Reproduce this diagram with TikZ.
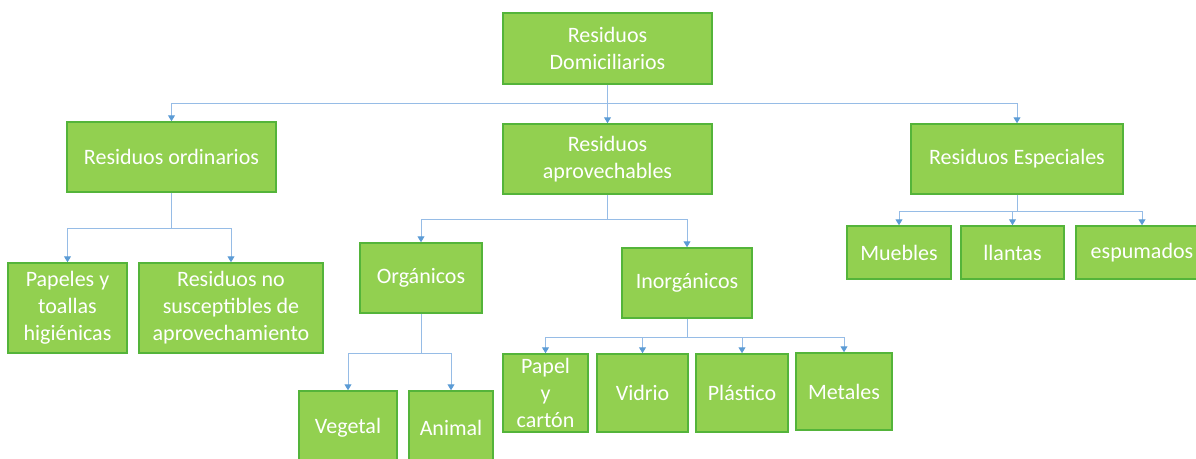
\documentclass[tikz,border=0pt]{standalone}
\usepackage{fontspec}
\setmainfont{Carlito}
\usetikzlibrary{arrows.meta}
\definecolor{boxgreen}{RGB}{146,208,80}
\definecolor{boxedge}{RGB}{84,180,58}
\definecolor{linkblue}{RGB}{150,188,230}
\definecolor{tipblue}{RGB}{91,155,213}
\begin{document}
\begin{tikzpicture}[x=1pt,y=-1pt,
    box/.style={rectangle,draw=boxedge,line width=1.5pt,fill=boxgreen,text=white,
      align=center,inner sep=0pt,font=\fontsize{22}{27}\selectfont},
    link/.style={draw=linkblue,line width=1pt,
      -{Triangle[length=6pt,width=7pt,fill=tipblue,color=tipblue]}}]
    \clip (0,0) rectangle (1196,458);
    % top levels
    \node[box,minimum width=209pt,minimum height=71pt] (root) at (607.5,48.5) {Residuos\\Domiciliarios};
    \node[box,minimum width=209pt,minimum height=70pt] (ord) at (171.5,157) {Residuos ordinarios};
    \node[box,minimum width=209pt,minimum height=70pt] (apr) at (607.5,159) {Residuos\\aprovechables};
    \node[box,minimum width=212pt,minimum height=70pt] (esp) at (1017,159) {Residuos Especiales};
    % ordinarios
    \node[box,minimum width=119pt,minimum height=90pt] (pap) at (67.5,308) {Papeles y\\toallas\\higiénicas};
    \node[box,minimum width=184pt,minimum height=90pt] (rno) at (231,308) {Residuos no\\susceptibles de\\aprovechamiento};
    % aprovechables
    \node[box,minimum width=122pt,minimum height=70pt] (org) at (421,278) {Orgánicos};
    \node[box,minimum width=130pt,minimum height=70pt] (ino) at (687,283) {Inorgánicos};
    \node[box,minimum width=98pt,minimum height=74pt] (veg) at (348,428) {Vegetal};
    \node[box,minimum width=84pt,minimum height=74pt] (ani) at (451,428) {Animal};
    \node[box,minimum width=85pt,minimum height=78pt] (ppc) at (545.5,393) {Papel\\y\\cartón};
    \node[box,minimum width=91pt,minimum height=78pt] (vid) at (642.5,393) {Vidrio};
    \node[box,minimum width=92pt,minimum height=78pt] (pla) at (742,393) {Plástico};
    \node[box,minimum width=96pt,minimum height=77pt] (met) at (844,391.5) {Metales};
    % especiales
    \node[box,minimum width=104pt,minimum height=53pt] (mue) at (899,252.5) {Muebles};
    \node[box,minimum width=103pt,minimum height=53pt] (lla) at (1012.5,252.5) {llantas};
    \node[box,minimum width=132pt,minimum height=53pt] (esm) at (1142,252.5) {espumados};

    \draw[link] (root.south) -- ++(0,19) -| (ord.north);
    \draw[link] (root.south) -- (apr.north);
    \draw[link] (root.south) -- ++(0,19) -| (esp.north);

    \draw[link] (ord.south) -- ++(0,36) -| (pap.north);
    \draw[link] (ord.south) -- ++(0,36) -| (rno.north);

    \draw[link] (apr.south) -- ++(0,25) -| (org.north);
    \draw[link] (apr.south) -- ++(0,25) -| (ino.north);

    \draw[link] (org.south) -- ++(0,40) -| (veg.north);
    \draw[link] (org.south) -- ++(0,40) -| (ani.north);

    \draw[link] (ino.south) -- ++(0,19) -| (ppc.north);
    \draw[link] (ino.south) -- ++(0,19) -| (vid.north);
    \draw[link] (ino.south) -- ++(0,19) -| (pla.north);
    \draw[link] (ino.south) -- ++(0,19) -| (met.north);

    \draw[link] (esp.south) -- ++(0,17) -| (mue.north);
    \draw[link] (esp.south) -- ++(0,17) -| (lla.north);
    \draw[link] (esp.south) -- ++(0,17) -| (esm.north);
\end{tikzpicture}
\end{document}
